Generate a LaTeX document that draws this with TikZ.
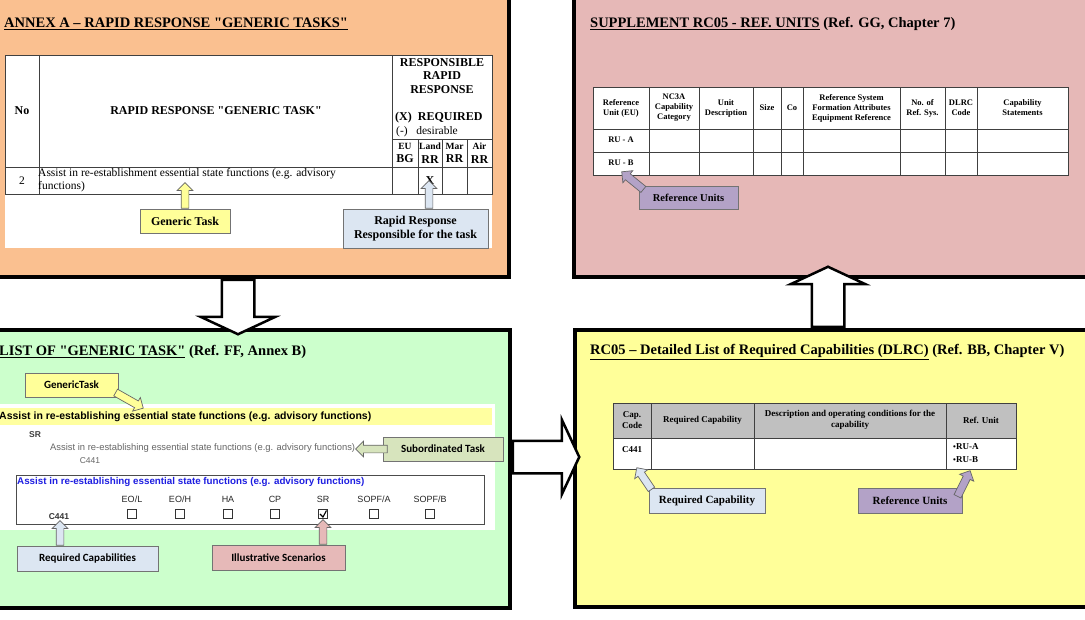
\documentclass[tikz,border=0pt]{standalone}
\usepackage{fontspec}
\setmainfont{Liberation Serif}[Ligatures=TeXOff]
\newfontfamily\arialfont{Liberation Sans}
\newfontfamily\calfont{Carlito}
\usetikzlibrary{shapes.arrows,calc}

\definecolor{annexfill}{RGB}{250,192,144}
\definecolor{suppfill}{RGB}{230,184,183}
\definecolor{glistfill}{RGB}{204,255,204}
\definecolor{dlrcfill}{RGB}{255,255,153}
\definecolor{callyellow}{RGB}{255,255,153}
\definecolor{callblue}{RGB}{220,230,242}
\definecolor{calllilac}{RGB}{179,162,199}
\definecolor{callpink}{RGB}{230,185,184}
\definecolor{callolive}{RGB}{215,228,189}
\definecolor{bandyellow}{RGB}{255,255,160}
\definecolor{hdgrey}{RGB}{192,192,192}
\definecolor{taskblue}{RGB}{30,30,225}

\newcommand{\blockarrow}[3][]{%
  \path let \p1=(#2), \p2=(#3), \n1={atan2(\y2-\y1,\x2-\x1)},
    \n2={veclen(\x2-\x1,\y2-\y1)} in
    node[#1, rotate=\n1, minimum height=\n2, anchor=tail] at (\p1) {};}

\begin{document}
\begin{tikzpicture}[x=1pt, y=-1pt,
  panel/.style={draw=black, line width=3.5pt, fill=#1, anchor=north west, inner sep=0pt},
  bigarrow/.style={single arrow, draw=black, fill=white, line width=2.5pt, inner xsep=0pt,
    inner ysep=15pt, single arrow head extend=21pt, single arrow tip angle=130},
  callarrow/.style={single arrow, draw=black!60, fill=#1, line width=0.7pt, inner xsep=0pt,
    inner ysep=3.5pt, single arrow head extend=4pt, single arrow tip angle=90},
  callbox/.style={draw=black!55, line width=0.7pt, fill=#1, inner sep=1pt, minimum height=24pt},
  title/.style={anchor=west, inner sep=0pt, font=\bfseries\fontsize{14.5}{17}\selectfont},
  tline/.style={draw=black!75, line width=0.8pt},
  hd/.style={inner sep=0pt, font=\bfseries\fontsize{12}{13.5}\selectfont},
  txt/.style={inner sep=0pt, font=\fontsize{11.5}{13}\selectfont},
  small/.style={inner sep=0pt, align=center, font=\bfseries\fontsize{8.5}{10}\selectfont},
  dhd/.style={inner sep=0pt, align=center, font=\bfseries\fontsize{9}{10.5}\selectfont},
  calsans/.style={font=\calfont\bfseries\fontsize{11}{13}\selectfont},
  collab/.style={inner sep=0pt, text=black!85, font=\arialfont\fontsize{9}{10}\selectfont},
  chk/.style={draw=black!80, line width=0.8pt, minimum size=9pt, inner sep=0pt}]

\path[use as bounding box] (0,0) rectangle (1085,619);
\clip (0,0) rectangle (1085,619);
\fill[white] (0,0) rectangle (1085,619);

\node[panel=annexfill, minimum width=517pt, minimum height=285pt] (annex) at (-10,-10) {};
\node[panel=suppfill, minimum width=523pt, minimum height=285pt] (supp) at (572,-10) {};
\node[panel=glistfill, minimum width=518pt, minimum height=278pt] (glist) at (-10,328) {};
\node[panel=dlrcfill, minimum width=522pt, minimum height=277pt] (dlrc) at (573,328) {};

% annex A
\node[title] (annextitle) at (4,24) {\underline{ANNEX A – RAPID RESPONSE "GENERIC TASKS"}};
\fill[white] (5,55) rectangle (492,248);
\draw[tline] (5,55) rectangle (492,194) (39,55) -- (39,194) (392,55) -- (392,194)
  (5,167) -- (492,167) (392,139) -- (492,139);
\foreach \x in {418,442,467} \draw[tline] (\x,139) -- (\x,194);
\node[hd] (hno) at (22,111) {No};
\node[hd] (htask) at (216,111) {RAPID RESPONSE "GENERIC TASK"};
\node[hd, align=center] (hresp) at (442,76) {RESPONSIBLE\\RAPID\\RESPONSE};
\node[hd, anchor=west] (hreq) at (395,118) {(X)~~REQUIRED};
\node[txt, anchor=west] (hdes) at (396,132) {(-)~~~desirable};
\foreach \x/\a/\b/\n in {405/EU/BG/eu, 430/Land/RR/land, 454.5/Mar/RR/mar, 479.5/Air/RR/air}
  \node[hd, align=center] (\n) at (\x,153) {{\fontsize{9.5}{13}\selectfont\a}\\\b};
\node[txt] (rno) at (22,181) {2};
\node[txt, anchor=north west, align=left] (rtask) at (38,168)
  {Assist in re-establishment essential state functions (e.g. advisory\\functions)};
\node[hd] (rx) at (430,181) {X};
\node[callbox=callyellow, minimum width=90pt, font=\bfseries\fontsize{12}{14}\selectfont] (gtask) at (185,221) {Generic Task};
\node[callbox=callblue, minimum width=145pt, minimum height=39pt, align=center,
  font=\bfseries\fontsize{12}{14}\selectfont] (rrbox) at (415.5,228.5) {Rapid Response\\Responsible for the task};
\coordinate (gtip) at (185,183);
\coordinate (rrtip) at (429,181);
\blockarrow[callarrow=callyellow]{gtask.north}{gtip}
\blockarrow[callarrow=callblue]{rrbox.north -| rrtip}{rrtip}

% supplement
\node[title] (supptitle) at (590,24) {\underline{SUPPLEMENT RC05 - REF. UNITS} (Ref. GG, Chapter 7)};
\fill[white] (593,87) rectangle (1068,175);
\draw[tline] (593,87) rectangle (1068,175) (593,129) -- (1068,129) (593,152) -- (1068,152);
\foreach \x in {649,699,753,781,803,900,945,977} \draw[tline] (\x,87) -- (\x,175);
\foreach \x/\t [count=\i] in {621/{Reference\\Unit (EU)}, 674/{NC3A\\Capability\\Category},
  726/{Unit\\Description}, 767/Size, 792/Co,
  851.5/{Reference System\\Formation Attributes\\Equipment Reference},
  922.5/{No. of\\Ref. Sys.}, 961/{DLRC\\Code}, 1022.5/{Capability\\Statements}}
  \node[small] (s\i) at (\x,108) {\t};
\node[small] (rua) at (621,140) {RU - A};
\node[small] (rub) at (621,163) {RU - B};
\node[callbox=calllilac, minimum width=99pt, minimum height=23pt,
  font=\bfseries\fontsize{10.5}{12}\selectfont] (refu) at (688.5,197.5) {Reference Units};
\coordinate (refutip) at (622,172);
\blockarrow[callarrow=calllilac]{[xshift=5pt,yshift=-4pt]refu.north west}{refutip}

% list of generic task
\node[title] (glisttitle) at (-1,352) {\underline{LIST OF "GENERIC TASK"} (Ref. FF, Annex B)};
\fill[white] (-5,404) rectangle (495,530);
\fill[bandyellow] (-5,408) rectangle (492,425);
\node[anchor=west, inner sep=0pt, font=\arialfont\bfseries\fontsize{10.5}{12}\selectfont] (band) at (-1,417)
  {Assist in re-establishing essential state functions (e.g. advisory functions)};
\node[inner sep=0pt, text=black!75, font=\arialfont\bfseries\fontsize{8.5}{10}\selectfont] (sr) at (35,435) {SR};
\node[anchor=west, inner sep=0pt, text=black!60, font=\arialfont\fontsize{9.4}{10}\selectfont] (subtask) at (50,448)
  {Assist in re-establishing essential state functions (e.g. advisory functions)};
\node[inner sep=0pt, text=black!60, font=\arialfont\fontsize{8.5}{10}\selectfont] (c441a) at (90,461) {C441};
\draw[draw=black!70, line width=1pt] (16,475) rectangle (484,524);
\node[anchor=west, inner sep=0pt, text=taskblue, font=\arialfont\bfseries\fontsize{9.8}{11}\selectfont] (bluetask) at (17,482)
  {Assist in re-establishing essential state functions (e.g. advisory functions)};
\foreach \x/\t [count=\i] in {132/{EO/L}, 180/{EO/H}, 228/HA, 275/CP, 323/SR, 374/{SOPF/A}, 430/{SOPF/B}} {
  \node[collab] (lab\i) at (\x,499) {\t};
  \node[chk] (box\i) at (\x,514) {};
}
\draw[line width=1.1pt] ([xshift=-3pt]box5.center) -- ([yshift=-3pt]box5.center)
  -- ([xshift=3.5pt,yshift=3.5pt]box5.center);
\node[inner sep=0pt, text=black!80, font=\arialfont\bfseries\fontsize{8.5}{10}\selectfont] (c441b) at (59,517) {C441};
\node[callbox=callyellow, calsans, minimum width=93pt] (gt2) at (71.5,385) {GenericTask};
\node[callbox=callolive, calsans, minimum width=120pt] (subt) at (443,449) {Subordinated Task};
\node[callbox=callblue, calsans, minimum width=141pt, minimum height=25pt] (reqc) at (87.5,558.5) {Required Capabilities};
\node[callbox=callpink, calsans, minimum width=133pt, minimum height=25pt] (illu) at (278.5,557.5) {Illustrative Scenarios};
\coordinate (gt2tip) at (143,408);
\coordinate (subtip) at (356,449);
\coordinate (reqctip) at (60,521);
\coordinate (illutip) at (323,520);
\blockarrow[callarrow=callyellow]{[xshift=-3pt,yshift=5pt]gt2.south east}{gt2tip}
\blockarrow[callarrow=callolive]{[xshift=5pt]subt.west}{subtip}
\blockarrow[callarrow=callblue]{reqc.north -| reqctip}{reqctip}
\blockarrow[callarrow=callpink]{illu.north -| illutip}{illutip}

% RC05 DLRC
\node[title] (dlrctitle) at (590,352) {\underline{RC05 – Detailed List of Required Capabilities (DLRC)} (Ref. BB, Chapter V)};
\fill[white] (613,403) rectangle (1016,469);
\fill[hdgrey] (613,403) rectangle (1016,438);
\draw[tline] (613,403) rectangle (1016,469) (613,438) -- (1016,438);
\foreach \x in {651,754,946} \draw[tline] (\x,403) -- (\x,469);
\node[dhd] (dcap) at (632,420) {Cap.\\Code};
\node[dhd] (dreq) at (702.5,420) {Required Capability};
\node[dhd] (ddesc) at (850,420) {Description and operating conditions for the\\capability};
\node[dhd] (dref) at (981,420) {Ref. Unit};
\node[dhd] (dc441) at (632,450) {C441};
\node[dhd, anchor=west] (drua) at (953,447) {{\fontsize{8}{8}\selectfont\textbullet}RU-A};
\node[dhd, anchor=west] (drub) at (953,460) {{\fontsize{8}{8}\selectfont\textbullet}RU-B};
\node[callbox=callblue, minimum width=116pt, minimum height=25pt,
  font=\bfseries\fontsize{11}{13}\selectfont] (reqcap) at (707,500.5) {Required Capability};
\node[callbox=calllilac, minimum width=104pt, minimum height=25pt,
  font=\bfseries\fontsize{11}{13}\selectfont] (refu2) at (910,500.5) {Reference Units};
\coordinate (reqcaptip) at (637,468);
\coordinate (refu2tip) at (970,471);
\blockarrow[callarrow=callblue]{[xshift=3pt,yshift=-2pt]reqcap.north west}{reqcaptip}
\blockarrow[callarrow=calllilac]{[xshift=-5pt,yshift=-9pt]refu2.north east}{refu2tip}

% block arrows between the panels
\coordinate (a1tip) at (238,333);
\coordinate (a2tip) at (578,457);
\coordinate (a3tip) at (828,268);
\blockarrow[bigarrow]{annex.south -| a1tip}{a1tip}
\blockarrow[bigarrow]{glist.east |- a2tip}{a2tip}
\blockarrow[bigarrow]{dlrc.north -| a3tip}{a3tip}
\end{tikzpicture}
\end{document}
